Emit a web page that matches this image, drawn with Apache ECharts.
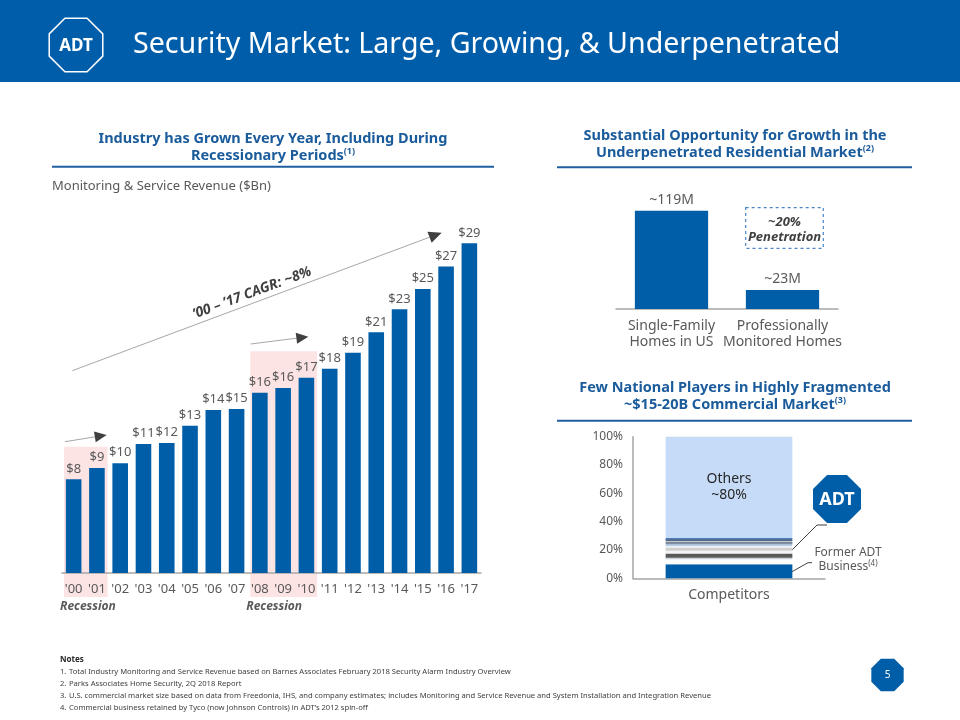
<!DOCTYPE html>
<html>
<head>
<meta charset="utf-8">
<script src="https://cdn.jsdelivr.net/npm/echarts@6/dist/echarts.min.js"></script>
<style>
html,body{margin:0;padding:0;background:#fff;}
#chart{width:960px;height:720px;}
</style>
</head>
<body>
<div id="chart"></div>
<script>
// ---------- data ----------
const years = ["'00","'01","'02","'03","'04","'05","'06","'07","'08","'09","'10","'11","'12","'13","'14","'15","'16","'17"];
const revenue = [8.24, 9.23, 9.65, 11.35, 11.43, 12.96, 14.34, 14.42, 15.86, 16.27, 17.18, 17.97, 19.38, 21.17, 23.19, 24.98, 26.97, 29.0];
const revenueLabels = ['$8','$9','$10','$11','$12','$13','$14','$15','$16','$16','$17','$18','$19','$21','$23','$25','$27','$29'];
const recessions = [["'00","'01"],["'08","'10"]];

const homeCategories = ['Single-Family\nHomes in US', 'Professionally\nMonitored Homes'];
const homeValues = [119, 23];

const commercialCategories = ['Competitors'];
const commercialNames = ['Former ADT Business','Competitor 1','Competitor 2','Competitor 3','Competitor 4','Competitor 5','Competitor 6','Competitor 7','Competitor 8','Competitor 9','Competitor 10','Competitor 11','Others'];
const commercialShares = [10, 3.5, 1, 3, 2, 2, 1.5, 1.5, 1, 1, 1, 1, 71.5];
const shareTicks = [0, 20, 40, 60, 80, 100];

const notes = [
  'Total Industry Monitoring and Service Revenue based on Barnes Associates February 2018 Security Alarm Industry Overview',
  'Parks Associates Home Security, 2Q 2018 Report',
  'U.S. commercial market size based on data from Freedonia, IHS, and company estimates; includes Monitoring and Service Revenue and System Installation and Integration Revenue',
  'Commercial business retained by Tyco (now Johnson Controls) in ADT\u2019s 2012 spin-off'
];

// ---------- styles ----------
const FONT = '"Noto Sans", "Open Sans", sans-serif';
const BLUE = '#005EA8';
const HEAD_BLUE = '#1a5b9c';
const GREY = '#595959';
const segmentColors = ['#005EA8','#ffffff','#c9d3e0','#595959','#f4f4f4','#cfcfcf','#e9edf3','#a9c1dd','#2f3e56','#c0cbd8','#263a5c','#4a7cc0','#c6dbf7'];

const chart = echarts.init(document.getElementById('chart'), null, {renderer:'canvas'});

const series = [
  {
    type:'bar', xAxisIndex:0, yAxisIndex:0, data:revenue, barWidth:'67%',
    itemStyle:{color:BLUE},
    label:{show:true, position:'top', distance:4, color:GREY, fontSize:13, fontFamily:FONT,
      formatter:p=>revenueLabels[p.dataIndex]}
  },
  {
    type:'bar', xAxisIndex:1, yAxisIndex:1, data:homeValues, barWidth:'66%',
    itemStyle:{color:BLUE},
    label:{show:true, position:'top', distance:4, color:GREY, fontSize:14, fontFamily:FONT,
      formatter:p=>'~' + p.value + 'M'}
  }
];
commercialNames.forEach((n,i)=>{
  series.push({
    type:'bar', name:n, xAxisIndex:2, yAxisIndex:2, stack:'share', barWidth:'66%',
    data:[commercialShares[i]],
    itemStyle:{color:segmentColors[i]},
    label: n === 'Others' ? {show:true, position:'inside', formatter:'Others\n~80%', color:'#262626', fontSize:14, lineHeight:16, fontFamily:FONT} : {show:false}
  });
});

const option = {
  animation:false,
  textStyle:{fontFamily:FONT},
  grid:[
    {left:62, right:479, top:243.3, bottom:147},
    {left:616, right:122, top:210.7, bottom:411},
    {left:633, right:135, top:436.7, bottom:141.7}
  ],
  xAxis:[
    {gridIndex:0, type:'category', data:years, axisTick:{show:false},
      axisLine:{lineStyle:{color:'#a6a6a6', width:1.5}},
      axisLabel:{color:GREY, fontSize:13, margin:10, interval:0}},
    {gridIndex:1, type:'category', data:homeCategories, axisTick:{show:false},
      axisLine:{lineStyle:{color:'#a6a6a6', width:1.5}},
      axisLabel:{color:GREY, fontSize:14, lineHeight:16, margin:9, interval:0}},
    {gridIndex:2, type:'category', data:commercialCategories, axisTick:{show:false},
      axisLine:{lineStyle:{color:'#a6a6a6', width:1.5}},
      axisLabel:{color:GREY, fontSize:14, margin:10}}
  ],
  yAxis:[
    {gridIndex:0, type:'value', min:0, max:29, show:false},
    {gridIndex:1, type:'value', min:0, max:119, show:false},
    {gridIndex:2, type:'value', min:shareTicks[0], max:shareTicks[shareTicks.length-1], interval:20,
      axisLine:{show:true, lineStyle:{color:'#a6a6a6', width:1.5}}, axisTick:{show:false},
      splitLine:{show:false},
      axisLabel:{color:GREY, fontSize:12, margin:10, formatter:'{value}%'}}
  ],
  series:series
};
chart.setOption(option);

// ---------- decorations ----------
function octagon(cx, cy, R){
  const pts=[];
  for(let k=0;k<8;k++){const a=(22.5+45*k)*Math.PI/180; pts.push([cx+R*Math.cos(a), cy+R*Math.sin(a)]);}
  return pts;
}
function arrow(x1,y1,x2,y2,hl,hw){
  const a=Math.atan2(y2-y1,x2-x1), c=Math.cos(a), s=Math.sin(a);
  const bx=x2-hl*c, by=y2-hl*s;
  return [
    {type:'line', shape:{x1:x1,y1:y1,x2:bx,y2:by}, style:{stroke:'#a6a6a6', lineWidth:1}},
    {type:'polygon', shape:{points:[[x2,y2],[bx-hw*s,by+hw*c],[bx+hw*s,by-hw*c]]}, style:{fill:'#404040'}}
  ];
}
function txt(x,y,text,opts){
  return Object.assign({type:'text', x:x, y:y, style:Object.assign({text:text, fill:GREY, font:'14px '+FONT, align:'left', verticalAlign:'middle'}, opts||{})});
}

const g = [];
// header band
g.push({type:'rect', shape:{x:0,y:0,width:960,height:82}, style:{fill:'#005DAA'}});
g.push({type:'polygon', shape:{points:octagon(76,45,29)}, style:{fill:'none', stroke:'#fff', lineWidth:1.5}});
g.push(txt(76,46,'ADT',{fill:'#fff', font:'bold 17px '+FONT, align:'center'}));
g.push(txt(133,45,'Security Market: Large, Growing, & Underpenetrated',{fill:'#fff', font:'28.6px '+FONT}));

// section headers
function header(cx, cy, l1, l2, sup){
  return {type:'text', x:cx, y:cy, style:{
    text:'{b|'+l1+'}\n{b|'+l2+'}{s|'+sup+'}', align:'center', verticalAlign:'middle',
    fill:HEAD_BLUE, font:'bold 14.5px '+FONT,
    rich:{b:{fill:HEAD_BLUE, font:'bold 14.5px '+FONT, lineHeight:17},
          s:{fill:HEAD_BLUE, font:'bold 9px '+FONT, lineHeight:17, verticalAlign:'top'}}
  }};
}
g.push(header(273,147,'Industry has Grown Every Year, Including During','Recessionary Periods','(1)'));
g.push(header(735,144,'Substantial Opportunity for Growth in the','Underpenetrated Residential Market','(2)'));
g.push(header(735,396,'Few National Players in Highly Fragmented','~$15-20B Commercial Market','(3)'));
g.push({type:'line', shape:{x1:52,y1:166.7,x2:494,y2:166.7}, style:{stroke:'#1f5f9f', lineWidth:2}});
g.push({type:'line', shape:{x1:557,y1:167.3,x2:912,y2:167.3}, style:{stroke:'#1f5f9f', lineWidth:2}});
g.push({type:'line', shape:{x1:557,y1:420.7,x2:912,y2:420.7}, style:{stroke:'#1f5f9f', lineWidth:2}});

g.push(txt(52,186,'Monitoring & Service Revenue ($Bn)',{font:'13px '+FONT}));

// recession shading computed from axes
const c0 = chart.convertToPixel({xAxisIndex:0}, years[0]);
const c1 = chart.convertToPixel({xAxisIndex:0}, years[1]);
const bw = c1 - c0;
const shadeTops = [11.1, 19.5];
recessions.forEach((r,i)=>{
  const xa = chart.convertToPixel({xAxisIndex:0}, r[0]) - bw/2 + 2;
  const xb = chart.convertToPixel({xAxisIndex:0}, r[1]) + bw/2 - 1;
  const yt = chart.convertToPixel({yAxisIndex:0}, shadeTops[i]);
  g.push({type:'rect', z:-10, shape:{x:xa, y:yt, width:xb-xa, height:597-yt}, style:{fill:'#fde4e4'}});
  g.push(txt(xa-4, 607, 'Recession', {font:'italic bold 12px '+FONT, fill:GREY}));
});

// arrows
arrow(65,441.7,106.7,435,12,5.5).forEach(e=>g.push(e));
arrow(250.7,344,308.3,336.7,12,5.5).forEach(e=>g.push(e));
arrow(72.3,370.7,441.7,232.7,13,6).forEach(e=>g.push(e));
g.push({type:'text', x:252, y:293, rotation:Math.atan2(138,369.4), style:{
  text:'\u201900 \u2013 \u201917 CAGR: ~8%', fill:'#404040', font:'italic bold 14px '+FONT, align:'center', verticalAlign:'middle'}});

// penetration box
g.push({type:'rect', shape:{x:745.7,y:207.7,width:77.6,height:40.6}, style:{fill:'#fff', stroke:'#4a86c5', lineWidth:1.2, lineDash:[3,3]}});
g.push(txt(784.5,222,'~20%',{font:'italic bold 13px '+FONT, fill:'#404040', align:'center'}));
g.push(txt(784.5,237,'Penetration',{font:'italic bold 13px '+FONT, fill:'#404040', align:'center'}));

// ADT logo + leader lines
g.push({type:'polygon', shape:{points:octagon(837,499,26)}, style:{fill:BLUE}});
g.push(txt(837,500,'ADT',{fill:'#fff', font:'bold 18px '+FONT, align:'center'}));
g.push({type:'polyline', shape:{points:[[792,550],[817,525],[827,525]]}, style:{stroke:'#404040', lineWidth:1, fill:'none'}});
g.push({type:'polyline', shape:{points:[[792,571.7],[808,562.7],[812,562.7]]}, style:{stroke:'#404040', lineWidth:1, fill:'none'}});
g.push({type:'text', x:848, y:559.5, style:{
  text:'{n|Former ADT}\n{n|Business}{s|(4)}', align:'center', verticalAlign:'middle', fill:GREY, font:'12px '+FONT,
  rich:{n:{fill:GREY, font:'12px '+FONT, lineHeight:13.5}, s:{fill:GREY, font:'8px '+FONT, lineHeight:13.5, verticalAlign:'top'}}}});

// page number
g.push({type:'polygon', shape:{points:octagon(887.5,675,17.5)}, style:{fill:BLUE}});
g.push(txt(887.5,675.5,'5',{fill:'#fff', font:'10px '+FONT, align:'center'}));

// notes
g.push(txt(60,660,'Notes',{font:'bold 8px '+FONT, fill:'#262626'}));
notes.forEach((n,i)=>{
  g.push(txt(60,672+12*i,(i+1)+'.',{font:'7.6px '+FONT, fill:'#404040'}));
  g.push(txt(69,672+12*i,n,{font:'7.6px '+FONT, fill:'#404040'}));
});

chart.setOption({graphic:{elements:g}});
</script>
</body>
</html>
